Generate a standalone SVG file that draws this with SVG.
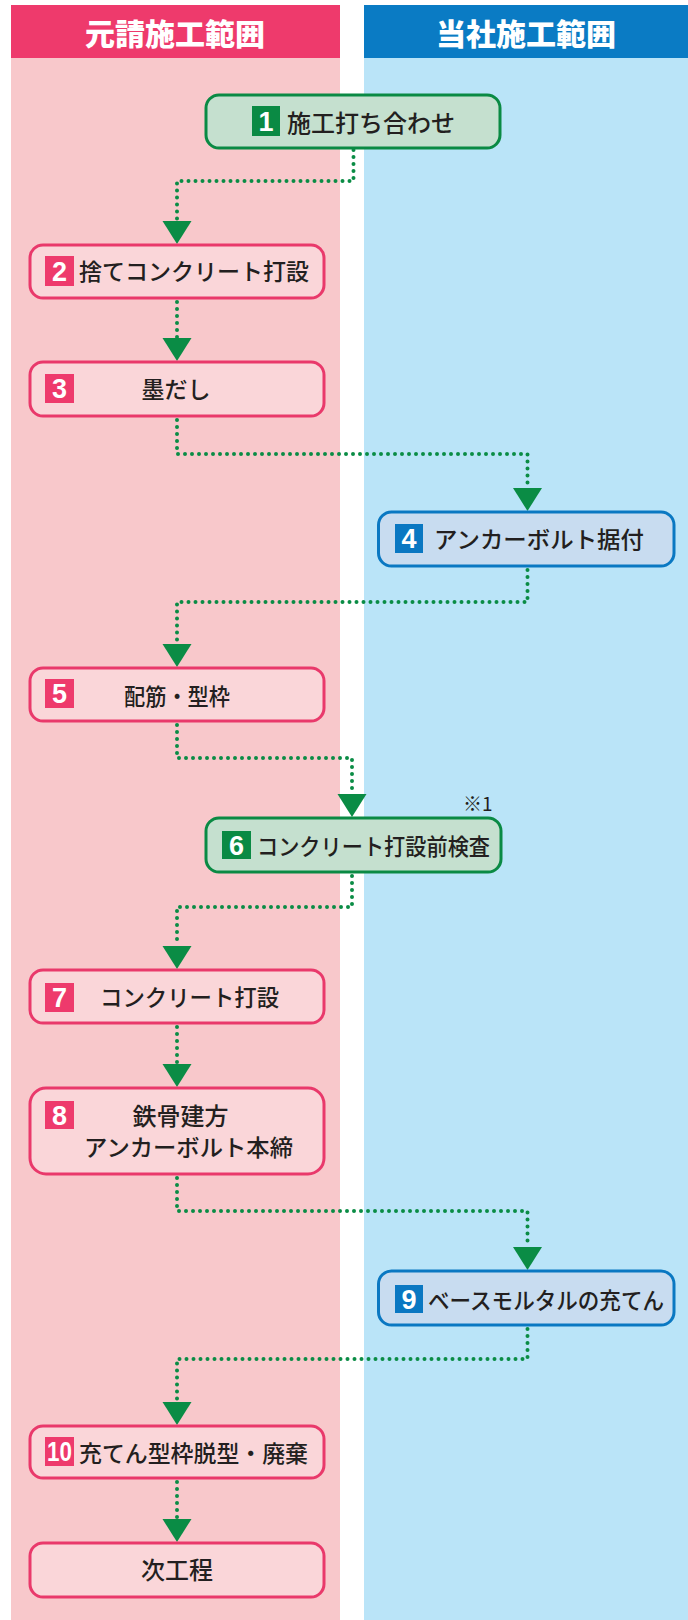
<svg xmlns="http://www.w3.org/2000/svg" width="688" height="1620" viewBox="0 0 688 1620">
<defs>
<style>
.hdr{font-family:"Noto Sans CJK JP","Noto Sans",sans-serif;font-weight:900;font-size:30px;fill:#fff;text-anchor:middle}
.t{font-family:"Noto Sans CJK JP","Noto Sans",sans-serif;font-weight:500;font-size:23px;fill:#231f20}
.num{font-family:"Liberation Sans",Arial,sans-serif;font-weight:bold;font-size:27px;fill:#fff;text-anchor:middle}
.pk{fill:#fad6d9;stroke:#e9396b;stroke-width:3}
.bl{fill:#c8dcf0;stroke:#0a78c2;stroke-width:3}
.gr{fill:#c5e0cf;stroke:#0a8a44;stroke-width:3}
.bpk{fill:#ee3a6c}
.bbl{fill:#0a78c2}
.bgr{fill:#0a8a44}
.con{fill:none;stroke:#0a8c45;stroke-width:4;stroke-dasharray:0 7;stroke-linecap:round;stroke-linejoin:round;marker-end:url(#ah)}
</style>
<marker id="ah" markerUnits="userSpaceOnUse" markerWidth="24" markerHeight="30" viewBox="0 0 24 30" refX="0" refY="15" orient="auto">
<path d="M0,0.5 L23,15 L0,29.5 z" fill="#0a8c45"/>
</marker>
</defs>
<rect width="688" height="1620" fill="#fff"/>
<g id="lanes">
<rect x="11" y="5" width="329" height="1615" fill="#f8c8cb"/>
<rect x="364" y="5" width="324" height="1615" fill="#bae4f8"/>
<rect x="11" y="5" width="329" height="53" fill="#ee3a6c"/>
<rect x="364" y="5" width="324" height="53" fill="#0a7bc4"/>
<text class="hdr" x="175" y="45">元請施工範囲</text>
<text class="hdr" x="526" y="45">当社施工範囲</text>
</g>
<g id="connectors">
<path class="con" d="M353.5,150 V181 H177 V221"/>
<path class="con" d="M177,302 V338"/>
<path class="con" d="M177,420 V454 H527.5 V488"/>
<path class="con" d="M527.5,570 V602 H177 V644"/>
<path class="con" d="M177,725 V758 H352 V794"/>
<path class="con" d="M352,876 V907 H177 V946"/>
<path class="con" d="M177,1027 V1064"/>
<path class="con" d="M177,1178 V1211 H527.5 V1247"/>
<path class="con" d="M527.5,1329 V1359 H177 V1402"/>
<path class="con" d="M177,1482 V1519"/>
</g>
<g id="n1">
<rect class="gr" x="206" y="95" width="294" height="53" rx="13"/>
<rect class="bgr" x="252" y="106" width="28" height="30"/>
<text class="num" x="266" y="131">1</text>
<text class="t" x="287" y="132" style="font-size:24px">施工打ち合わせ</text>
</g>
<g id="n2">
<rect class="pk" x="30" y="245" width="294" height="53" rx="13"/>
<rect class="bpk" x="45" y="256" width="29" height="30"/>
<text class="num" x="59.5" y="281">2</text>
<text class="t" x="79" y="280" textLength="230" lengthAdjust="spacingAndGlyphs">捨てコンクリート打設</text>
</g>
<g id="n3">
<rect class="pk" x="30" y="362" width="294" height="54" rx="13"/>
<rect class="bpk" x="45" y="374" width="29" height="29"/>
<text class="num" x="59.5" y="398">3</text>
<text class="t" x="176" y="398" text-anchor="middle">墨だし</text>
</g>
<g id="n4">
<rect class="bl" x="378.5" y="512" width="295.5" height="54" rx="13"/>
<rect class="bbl" x="395" y="524" width="28" height="29"/>
<text class="num" x="409" y="548">4</text>
<text class="t" x="434" y="548" textLength="210" lengthAdjust="spacingAndGlyphs">アンカーボルト据付</text>
</g>
<g id="n5">
<rect class="pk" x="30" y="668" width="294" height="53" rx="13"/>
<rect class="bpk" x="45" y="679" width="29" height="29"/>
<text class="num" x="59.5" y="703">5</text>
<text class="t" x="124" y="705" textLength="106" lengthAdjust="spacingAndGlyphs">配筋・型枠</text>
</g>
<g id="n6">
<text x="463" y="811" style="font-family:'Noto Sans CJK JP','Liberation Sans',sans-serif;font-size:19px;fill:#231f20">※1</text>
<rect class="gr" x="206" y="818" width="295" height="54" rx="13"/>
<rect class="bgr" x="222" y="831" width="29" height="28"/>
<text class="num" x="236.5" y="855">6</text>
<text class="t" x="257" y="855" textLength="233" lengthAdjust="spacingAndGlyphs">コンクリート打設前検査</text>
</g>
<g id="n7">
<rect class="pk" x="30" y="970" width="294" height="53" rx="13"/>
<rect class="bpk" x="45" y="983" width="29" height="29"/>
<text class="num" x="59.5" y="1007">7</text>
<text class="t" x="100" y="1006" textLength="179" lengthAdjust="spacingAndGlyphs">コンクリート打設</text>
</g>
<g id="n8">
<rect class="pk" x="30" y="1088" width="294" height="86" rx="16"/>
<rect class="bpk" x="45" y="1101" width="29" height="28"/>
<text class="num" x="59.5" y="1125">8</text>
<text class="t" x="180.5" y="1125" text-anchor="middle" style="font-size:24px">鉄骨建方</text>
<text class="t" x="84" y="1156" textLength="209" lengthAdjust="spacingAndGlyphs">アンカーボルト本締</text>
</g>
<g id="n9">
<rect class="bl" x="378.5" y="1271" width="295.5" height="54" rx="13"/>
<rect class="bbl" x="395" y="1285" width="28" height="28"/>
<text class="num" x="409" y="1309">9</text>
<text class="t" x="428" y="1309" textLength="236" lengthAdjust="spacingAndGlyphs">ベースモルタルの充てん</text>
</g>
<g id="n10">
<rect class="pk" x="30" y="1426" width="294" height="52" rx="13"/>
<rect class="bpk" x="45" y="1437" width="29" height="29"/>
<text class="num" x="59.5" y="1461" textLength="25" lengthAdjust="spacingAndGlyphs">10</text>
<text class="t" x="79" y="1462" textLength="229" lengthAdjust="spacingAndGlyphs">充てん型枠脱型・廃棄</text>
</g>
<g id="n11">
<rect class="pk" x="30" y="1543" width="294" height="54" rx="13"/>
<text class="t" x="177" y="1579" text-anchor="middle" style="font-size:24px">次工程</text>
</g>
</svg>
